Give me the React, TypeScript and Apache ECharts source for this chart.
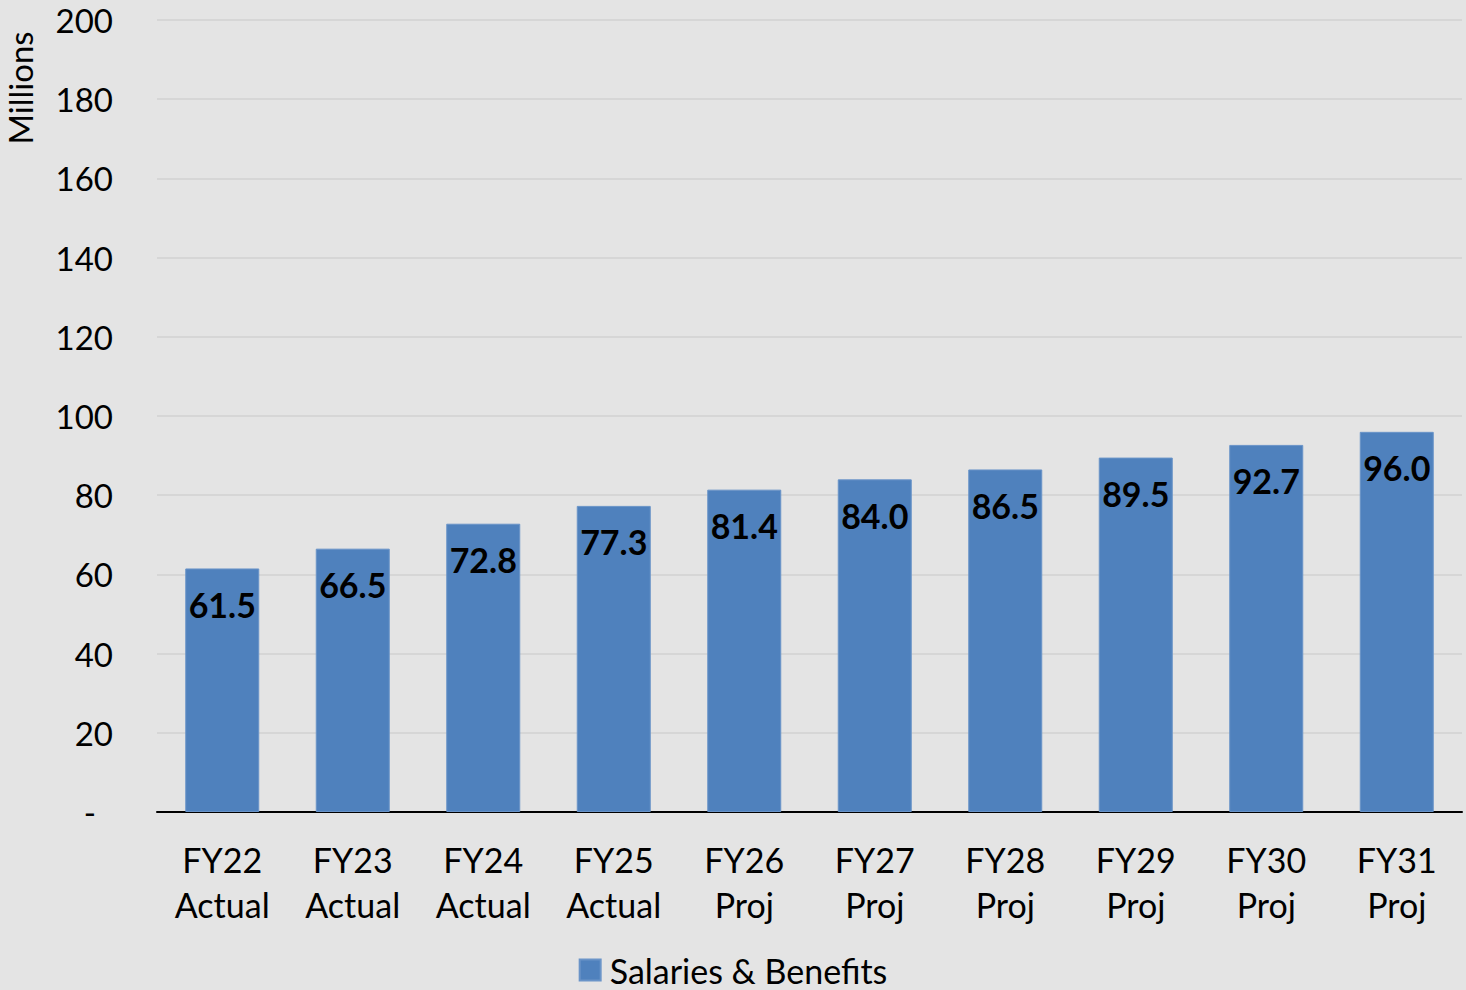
import React, { useEffect, useRef } from "react";
import * as echarts from "echarts";

const categories = [
  "FY22\nActual", "FY23\nActual", "FY24\nActual", "FY25\nActual", "FY26\nProj",
  "FY27\nProj", "FY28\nProj", "FY29\nProj", "FY30\nProj", "FY31\nProj",
];
const salaries = [61.5, 66.5, 72.8, 77.3, 81.4, 84.0, 86.5, 89.5, 92.7, 96.0];
const seriesName = "Salaries & Benefits";
const axisTitle = "Millions";

const FONT = "Lato, 'Noto Sans', sans-serif";

export default function App() {
  const ref = useRef<HTMLDivElement>(null);

  useEffect(() => {
    document.body.style.margin = "0";
    const chart = echarts.init(ref.current!, null, { renderer: "svg" });
    chart.setOption({
      animation: false,
      backgroundColor: "#e4e4e4",
      textStyle: { fontFamily: FONT },
      grid: { left: 157, right: 4, top: 20, bottom: 178 },
      legend: {
        bottom: -2,
        left: "center",
        itemWidth: 21,
        itemHeight: 21,
        itemGap: 10,
        icon: "rect",
        textStyle: { fontSize: 34, color: "#000", fontFamily: FONT, padding: [0, 0, 0, 4] },
        data: [seriesName],
      },
      graphic: [
        {
          type: "text",
          x: 20,
          y: 88,
          rotation: Math.PI / 2,
          style: {
            text: axisTitle,
            fontSize: 33,
            lineHeight: 33,
            fontFamily: FONT,
            fill: "#000",
            align: "center",
            verticalAlign: "middle",
          },
        },
      ],
      xAxis: {
        type: "category",
        data: categories,
        axisLine: { lineStyle: { color: "#000", width: 2 } },
        axisTick: { show: false },
        axisLabel: {
          color: "#000",
          fontSize: 34,
          lineHeight: 45,
          margin: 25,
          fontFamily: FONT,
          interval: 0,
        },
      },
      yAxis: {
        type: "value",
        min: 0,
        max: 200,
        interval: 20,
        axisLine: { show: false },
        axisTick: { show: false },
        splitLine: { lineStyle: { color: "#d6d6d6", width: 2 } },
        axisLabel: {
          color: "#000",
          fontSize: 33,
          margin: 44,
          fontFamily: FONT,
          formatter: (v: number) => (v === 0 ? "{d|-}" : String(v)),
          rich: { d: { fontSize: 33, padding: [0, 17, 0, 0], fontFamily: FONT } },
        },
      },
      series: [
        {
          name: seriesName,
          type: "bar",
          data: salaries,
          barWidth: 74,
          itemStyle: { color: "#4f81bd", borderColor: "#6a94c8", borderWidth: 1 },
          label: {
            show: true,
            position: "insideTop",
            distance: 19,
            color: "#000",
            fontSize: 34,
            fontWeight: "bold",
            fontFamily: FONT,
            formatter: (p: any) => Number(p.value).toFixed(1),
          },
        },
      ],
    });
    return () => chart.dispose();
  }, []);

  return <div ref={ref} style={{ width: 1466, height: 990 }} />;
}
